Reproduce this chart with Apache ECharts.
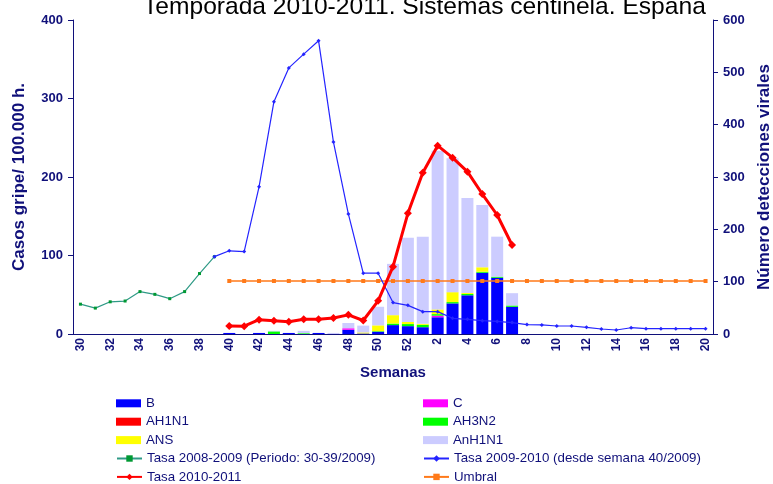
<!DOCTYPE html>
<html>
<head>
<meta charset="utf-8">
<script src="https://cdn.jsdelivr.net/npm/echarts@6/dist/echarts.min.js"></script>
<style>html,body{margin:0;padding:0;background:#fff}#c{width:773px;height:484px}</style>
</head>
<body>
<div id="c"></div>
<script>
var weeks = ['30','31','32','33','34','35','36','37','38','39','40','41','42','43','44','45','46','47','48','49','50','51','52','1','2','3','4','5','6','7','8','9','10','11','12','13','14','15','16','17','18','19','20'];
var N = null;
// bars (virus detections), weeks 30..20
var barB      = [N,N,N,N,N,N,N,N,N,N, 2,0,2,0,2,0,2,0,8,1, 4.5,17,15,13,32,58.5,74,117,107.5,52, N,N,N,N,N,N,N,N,N,N,N,N,N];
var barAH1N1  = [N,N,N,N,N,N,N,N,N,N, 0,0,0,0,0,0,0,0,0,0, 0,0,0,0,0,0,0,0,0,0, N,N,N,N,N,N,N,N,N,N,N,N,N];
var barC      = [N,N,N,N,N,N,N,N,N,N, 0,0,0,0,0,0,0,0,3,0, 0,0,0,0,3,0,0,0,0,0, N,N,N,N,N,N,N,N,N,N,N,N,N];
var barAH3N2  = [N,N,N,N,N,N,N,N,N,N, 0,0,0,5,0,1.5,0,0,0,0, 1,3,4,4.5,3,2.5,2.5,2,2,2.5, N,N,N,N,N,N,N,N,N,N,N,N,N];
var barANS    = [N,N,N,N,N,N,N,N,N,N, 0,0,0,0,0,0,0,0,0,2, 11,16,4,2,9,19,2,8.5,0,0, N,N,N,N,N,N,N,N,N,N,N,N,N];
var barAnH1N1 = [N,N,N,N,N,N,N,N,N,N, 0,0,0,1,0,4.5,0,2,10,13, 35.5,98,161,166.5,303,256,181.5,119,76.5,23.5, N,N,N,N,N,N,N,N,N,N,N,N,N];
// rates per 100.000
var tasa0809 = [38,33,41,42,54,50.5,45,54,77,98.5, N,N,N,N,N,N,N,N,N,N,N,N,N,N,N,N,N,N,N,N,N,N,N,N,N,N,N,N,N,N,N,N,N];
var tasa0910 = [N,N,N,N,N,N,N,N,N,98.5, 106,105,187.5,296,339,356.5,373.5,244.5,153,77.5, 77.5,40,36.5,28.5,28.5,20,18.7,17,16,14.5, 12,11.5,10.2,10.2,8.5,6.4,5.1,8,6.8,6.8,6.8,6.8,6.8];
var tasa1011 = [N,N,N,N,N,N,N,N,N,N, 10.2,10,18.3,17,15.7,18.7,18.7,20.4,24.4,17.2, 42.2,85.8,153.7,205.5,239.9,224.6,206.8,178.3,151.6,113.4, N,N,N,N,N,N,N,N,N,N,N,N,N];
var umbral   = [N,N,N,N,N,N,N,N,N,N, 67.5,67.5,67.5,67.5,67.5,67.5,67.5,67.5,67.5,67.5,67.5,67.5,67.5,67.5,67.5,67.5,67.5,67.5,67.5,67.5,67.5,67.5,67.5,67.5,67.5,67.5,67.5,67.5,67.5,67.5,67.5,67.5,67.5];
var legendLeftCol  = ['B','AH1N1','ANS','Tasa 2008-2009 (Periodo: 30-39/2009)','Tasa 2010-2011'];
var legendRightCol = ['C','AH3N2','AnH1N1','Tasa 2009-2010 (desde semana 40/2009)','Umbral'];
var barNames = ['B','AH1N1','C','AH3N2','ANS','AnH1N1'];

var navy = '#10107a';
var FONT = 'Liberation Sans';
function bar(name, data, color) {
  return {name:name, type:'bar', stack:'v', yAxisIndex:1, data:data, barWidth:12,
    itemStyle:{color:color}, emphasis:{disabled:true}, z:2};
}
var legends = [];
var rowY = [403.3, 421.7, 440.1, 458.5, 476.9];
function addCol(names, x) {
  names.forEach(function(n, i) {
    legends.push({orient:'vertical', left:x, top:rowY[i]-8, padding:0, itemWidth:25, itemHeight:8, itemGap:0,
      itemTextGap:4,
      textStyle:{fontFamily:FONT, fontSize:13.3, color:navy, lineHeight:16},
      data:[barNames.indexOf(n) >= 0 ? {name:n, icon:'rect'} : n]});
  });
}
addCol(legendLeftCol, 116);
addCol(legendRightCol, 423);

var chart = echarts.init(document.getElementById('c'), null, {renderer:'canvas'});
chart.setOption({
  animation:false,
  textStyle:{fontFamily:FONT},
  title:{text:'Temporada 2010-2011. Sistemas centinela. España', left:138, top:-10,
    textStyle:{fontFamily:FONT, fontSize:24.6, fontWeight:'normal', color:'#000'}},
  grid:{left:73, right:60, top:20, bottom:150, containLabel:false, outerBoundsMode:'none'},
  legend:legends,
  xAxis:{type:'category', data:weeks, boundaryGap:true,
    name:'Semanas', nameLocation:'middle', nameGap:31,
    nameTextStyle:{fontFamily:FONT, fontSize:15, fontWeight:'bold', color:navy},
    axisLine:{lineStyle:{color:navy, width:1}},
    axisTick:{interval:0, length:5, lineStyle:{color:navy}},
    axisLabel:{interval:1, rotate:90, fontFamily:FONT, fontSize:12, fontWeight:'bold', color:navy, margin:4}},
  yAxis:[
    {type:'value', min:0, max:400, interval:100, position:'left',
     name:'Casos gripe/ 100.000 h.', nameLocation:'middle', nameRotate:90, nameGap:45,
     nameTextStyle:{fontFamily:FONT, fontSize:17, fontWeight:'bold', color:navy},
     axisLine:{show:true, lineStyle:{color:navy}}, axisTick:{show:true, length:5, lineStyle:{color:navy}},
     splitLine:{show:false},
     axisLabel:{fontFamily:FONT, fontSize:13, fontWeight:'bold', color:navy, margin:10}},
    {type:'value', min:0, max:600, interval:100, position:'right',
     name:'Número detecciones virales', nameLocation:'middle', nameRotate:90, nameGap:42,
     nameTextStyle:{fontFamily:FONT, fontSize:17, fontWeight:'bold', color:navy},
     axisLine:{show:true, lineStyle:{color:navy}}, axisTick:{show:true, length:5, lineStyle:{color:navy}},
     splitLine:{show:false},
     axisLabel:{fontFamily:FONT, fontSize:13, fontWeight:'bold', color:navy, margin:10}}
  ],
  series:[
    bar('B', barB, '#0000ff'),
    bar('AH1N1', barAH1N1, '#ff0000'),
    bar('C', barC, '#ff00ff'),
    bar('AH3N2', barAH3N2, '#00ff00'),
    bar('ANS', barANS, '#ffff00'),
    bar('AnH1N1', barAnH1N1, '#ccccff'),
    {name:'Tasa 2008-2009 (Periodo: 30-39/2009)', type:'line', yAxisIndex:0, data:tasa0809,
     symbol:'rect', symbolSize:3, showAllSymbol:true, lineStyle:{color:'#2f9a86', width:1.2},
     itemStyle:{color:'#009933'}, z:5},
    {name:'Tasa 2009-2010 (desde semana 40/2009)', type:'line', yAxisIndex:0, data:tasa0910,
     symbol:'diamond', symbolSize:4, showAllSymbol:true, lineStyle:{color:'#2424ff', width:1.2},
     itemStyle:{color:'#2424ff'}, z:6},
    {name:'Umbral', type:'line', yAxisIndex:0, data:umbral,
     symbol:'rect', symbolSize:4, showAllSymbol:true, lineStyle:{color:'#ff7a1a', width:1.5},
     itemStyle:{color:'#ff7a1a'}, z:5},
    {name:'Tasa 2010-2011', type:'line', yAxisIndex:0, data:tasa1011,
     symbol:'diamond', symbolSize:8, showAllSymbol:true, lineStyle:{color:'#ff0000', width:3},
     itemStyle:{color:'#ff0000'}, z:7}
  ]
});
</script>
</body>
</html>
